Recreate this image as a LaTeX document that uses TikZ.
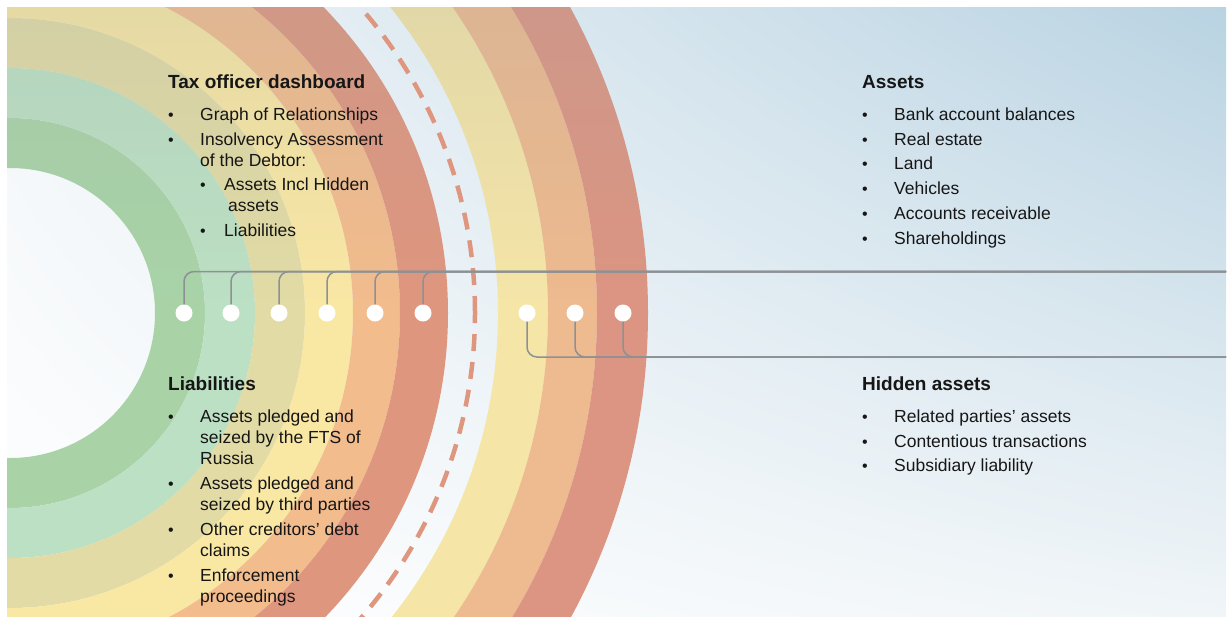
\documentclass[tikz,border=0pt]{standalone}
\usepackage{fontspec}
\setmainfont{Liberation Sans}
\usepackage{xcolor}
\usetikzlibrary{positioning,shadings,fadings}

\definecolor{bgtr}{HTML}{B9D3E2}
\definecolor{bgtl}{HTML}{F2F6F9}
\definecolor{bgbr}{HTML}{F0F5F8}
\definecolor{ringA}{HTML}{A9D3A7}
\definecolor{ringB}{HTML}{BCE0C3}
\definecolor{ringC}{HTML}{E2DBA5}
\definecolor{ringD}{HTML}{F9E7A4}
\definecolor{ringE}{HTML}{F2BC8D}
\definecolor{ringF}{HTML}{DF967F}
\definecolor{outerD}{HTML}{F5E5A7}
\definecolor{outerE}{HTML}{EEBA8F}
\definecolor{outerF}{HTML}{DC9582}
\definecolor{dimgray}{HTML}{98A4A8}
\definecolor{linkgray}{HTML}{8C9195}
\definecolor{inkblack}{HTML}{161616}

% rings get a little duller towards the top
\tikzfading[name=topdim, top color=transparent!0, bottom color=transparent!100]

% one list line is 21pt high, bullets hang in a 32pt column
\newcommand{\lstrut}{\rule[-6pt]{0pt}{21pt}}
\newcommand{\dotmark}{{\fontsize{16}{16}\selectfont\textbullet}}
\newcommand{\itembul}{\lstrut\makebox[32pt][l]{\dotmark}}
\newcommand{\itemcont}{\lstrut\hspace*{32pt}}
\newcommand{\subbul}{\lstrut\hspace*{32pt}\makebox[24pt][l]{\dotmark}}
\newcommand{\subcont}{\lstrut\hspace*{60pt}}

\begin{document}
\begin{tikzpicture}[x=1pt, y=-1pt,
  blockhead/.style={anchor=base west, inner sep=0pt, text=inkblack,
                    font=\bfseries\fontsize{19}{23}\selectfont},
  blocklist/.style={anchor=north west, inner sep=0pt, align=left, text=inkblack,
                    font=\fontsize{17.5}{21}\selectfont},
  knob/.style={circle, fill=white, inner sep=0pt, minimum size=17pt},
  wire/.style={draw=linkgray, line width=1.5pt, rounded corners=10pt},
  dashring/.style={draw=ringF, line width=4.5pt, dash pattern=on 17pt off 11pt}
]
  \useasboundingbox (0,0) rectangle (1231,619);
  \shade[upper left=bgtl, upper right=bgtr, lower left=white, lower right=bgbr]
    (7,7) rectangle (1226,616);

  \coordinate (ctr) at (10,313);

  % Rings
  \begin{scope}
    \clip (7,7) rectangle (1226,616);
    \foreach \ri/\ro/\col in {145/195/ringA, 195/245/ringB, 245/295/ringC,
                              295/343/ringD, 343/390/ringE, 390/438/ringF,
                              488/538/outerD, 538/587/outerE, 587/638/outerF}
      \fill[\col, even odd rule] (ctr) circle[radius=\ro pt] (ctr) circle[radius=\ri pt];
    \draw[dashring] (ctr) circle[radius=465pt];
    \begin{scope}[even odd rule]
      \clip (ctr) circle[radius=638pt] (ctr) circle[radius=488pt]
            (ctr) circle[radius=438pt] (ctr) circle[radius=145pt];
      \fill[dimgray, fill opacity=0.2, path fading=topdim] (7,7) rectangle (1226,300);
    \end{scope}
  \end{scope}

  % Knobs and wires
  \foreach \x [count=\i] in {184,231,279,327,375,423,527,575,623}
    \node[knob] (k\i) at (\x,313) {};
  \coordinate (topend) at (1226,271.5);
  \coordinate (botend) at (1226,357);
  \foreach \i in {1,...,6}
    \draw[wire] (k\i.north) |- (topend);
  \foreach \i in {7,8,9}
    \draw[wire] (k\i.south) |- (botend);

  % Text blocks
  \node[blockhead] (taxhead) at (168,88.5) {Tax officer dashboard};
  \node[below=17pt of taxhead.base west, blocklist] (taxlist) {%
    \itembul Graph of Relationships\\[3.6pt]
    \itembul Insolvency Assessment\\
    \itemcont of the Debtor:\\[3.6pt]
    \subbul Assets Incl Hidden\\
    \subcont assets\\[3.6pt]
    \subbul Liabilities};

  \node[blockhead] (liabhead) at (168,390) {Liabilities};
  \node[below=17pt of liabhead.base west, blocklist] (liablist) {%
    \itembul Assets pledged and\\
    \itemcont seized by the FTS of\\
    \itemcont Russia\\[4pt]
    \itembul Assets pledged and\\
    \itemcont seized by third parties\\[4pt]
    \itembul Other creditors’ debt\\
    \itemcont claims\\[4pt]
    \itembul Enforcement\\
    \itemcont proceedings};

  \node[blockhead] (assethead) at (862,88) {Assets};
  \node[below=17pt of assethead.base west, blocklist] (assetlist) {%
    \itembul Bank account balances\\[3.8pt]
    \itembul Real estate\\[3.8pt]
    \itembul Land\\[3.8pt]
    \itembul Vehicles\\[3.8pt]
    \itembul Accounts receivable\\[3.8pt]
    \itembul Shareholdings};

  \node[blockhead] (hiddenhead) at (862,390) {Hidden assets};
  \node[below=17pt of hiddenhead.base west, blocklist] (hiddenlist) {%
    \itembul Related parties’ assets\\[3.8pt]
    \itembul Contentious transactions\\[3.8pt]
    \itembul Subsidiary liability};
\end{tikzpicture}
\end{document}
